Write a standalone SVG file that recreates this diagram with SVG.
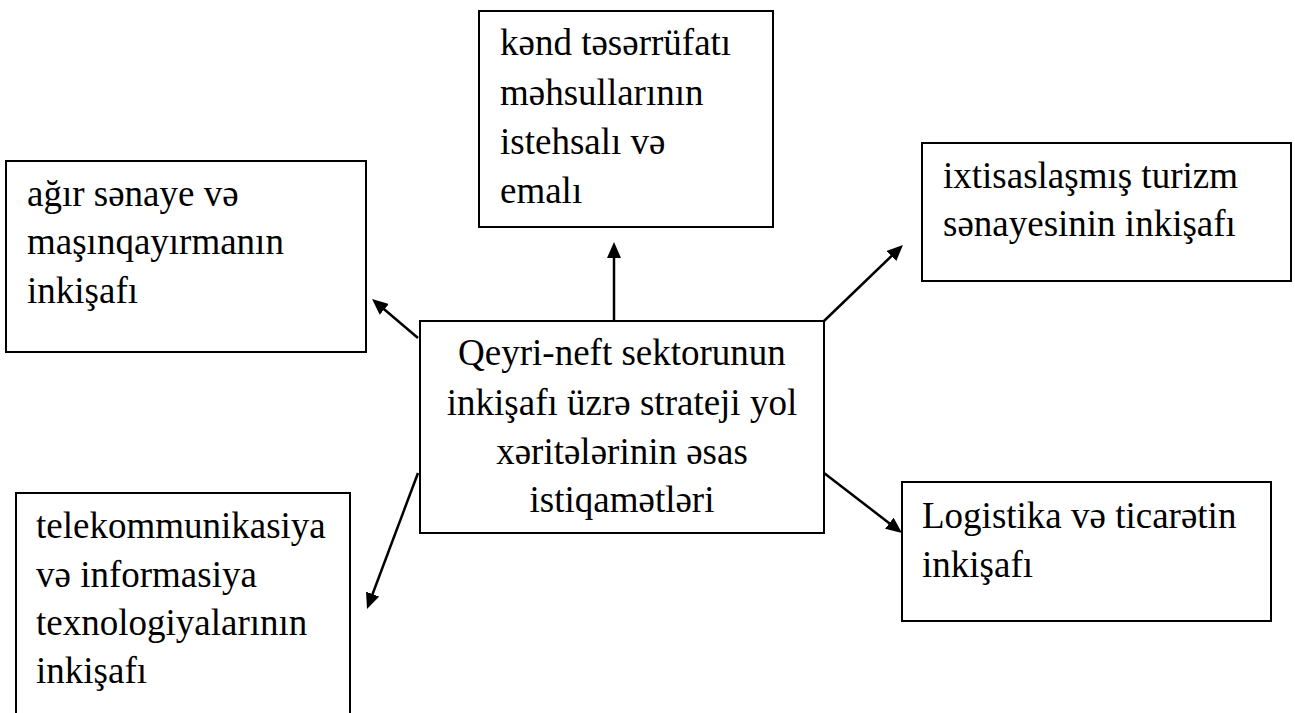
<svg xmlns="http://www.w3.org/2000/svg" width="1295" height="713" viewBox="0 0 1295 713">
<style>
.box{fill:#fff;stroke:#000;stroke-width:2}
.t{font-family:"Liberation Serif","Times New Roman",serif;font-size:37px;fill:#000}
.c{text-anchor:middle}
.arr{stroke:#000;stroke-width:2.5;fill:none;marker-end:url(#ah)}
</style>
<defs>
<marker id="ah" viewBox="0 0 16 14" refX="4" refY="7" markerWidth="16" markerHeight="14" markerUnits="userSpaceOnUse" orient="auto">
<path d="M0,0 L16,7 L0,14 z" fill="#000"/>
</marker>
</defs>
<rect width="1295" height="713" fill="#fff"/>
<g id="connectors">
<line class="arr" x1="614" y1="321" x2="614" y2="254"/>
<line class="arr" x1="418" y1="338" x2="381.2" y2="306.8"/>
<line class="arr" x1="824" y1="321" x2="894.3" y2="253.3"/>
<line class="arr" x1="418" y1="473" x2="371.2" y2="597.8"/>
<line class="arr" x1="824" y1="473" x2="892.5" y2="525.7"/>
</g>
<g id="center">
<rect class="box" x="420" y="321" width="404" height="212"/>
<text class="t c" x="622" y="365">Qeyri-neft sektorunun</text>
<text class="t c" x="622" y="415">inkişafı üzrə strateji yol</text>
<text class="t c" x="622" y="464">xəritələrinin əsas</text>
<text class="t c" x="622" y="512">istiqamətləri</text>
</g>
<g id="kend">
<rect class="box" x="479" y="11" width="294" height="216"/>
<text class="t" x="500" y="55">kənd təsərrüfatı</text>
<text class="t" x="500" y="105">məhsullarının</text>
<text class="t" x="500" y="154">istehsalı və</text>
<text class="t" x="500" y="203">emalı</text>
</g>
<g id="agir">
<rect class="box" x="6" y="161" width="360" height="191"/>
<text class="t" x="27" y="206">ağır sənaye və</text>
<text class="t" x="27" y="254">maşınqayırmanın</text>
<text class="t" x="27" y="303">inkişafı</text>
</g>
<g id="turizm">
<rect class="box" x="922" y="143" width="369" height="138"/>
<text class="t" x="943" y="188">ixtisaslaşmış turizm</text>
<text class="t" x="943" y="236">sənayesinin inkişafı</text>
</g>
<g id="tele">
<rect class="box" x="16" y="493" width="334" height="240"/>
<text class="t" x="36" y="538">telekommunikasiya</text>
<text class="t" x="36" y="587">və informasiya</text>
<text class="t" x="36" y="635">texnologiyalarının</text>
<text class="t" x="36" y="683">inkişafı</text>
</g>
<g id="logistika">
<rect class="box" x="902" y="482" width="369" height="139"/>
<text class="t" x="922" y="528">Logistika və ticarətin</text>
<text class="t" x="922" y="577">inkişafı</text>
</g>
</svg>
